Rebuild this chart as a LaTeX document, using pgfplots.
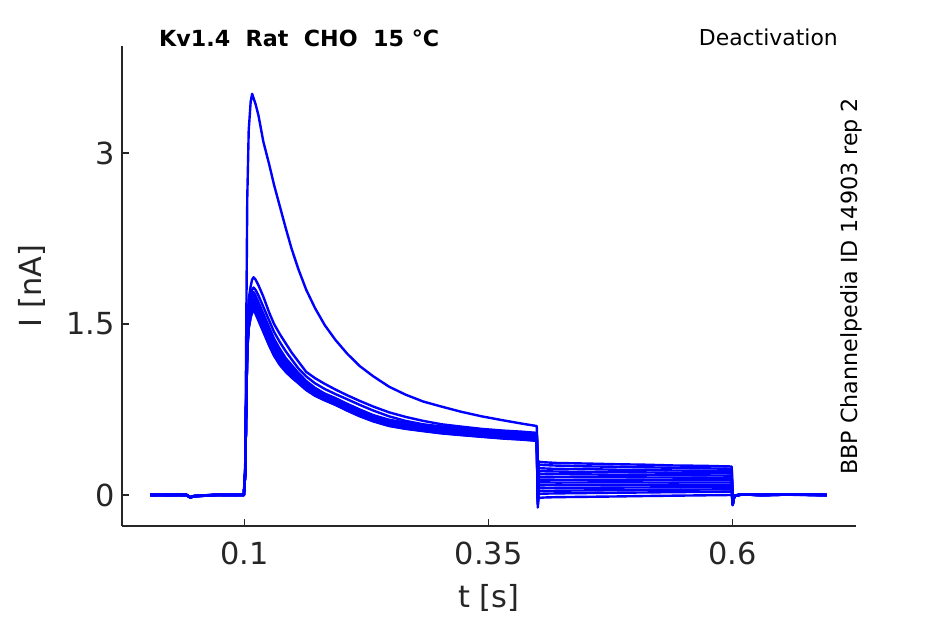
\documentclass[border=0pt]{standalone}
\usepackage{pgfplots}
\pgfplotsset{compat=1.18}
\usepackage{pgfplotstable}
\usepackage{fontspec}
\setmainfont{DejaVu Sans}
\definecolor{axgray}{HTML}{262626}
\definecolor{trace}{HTML}{0000FF}

\pgfplotstableread{
t T1 T2 T3 T4 T5 T6 T7 T8 T9 T10 T11 T12 T13
0.003 0.000 0.005 0.000 -0.005 0.000 0.005 0.000 0.000 -0.005 0.000 0.005 0.000 0.000
0.020 0.003 0.000 -0.004 0.002 0.000 -0.003 0.004 0.000 0.002 -0.002 0.000 0.003 -0.003
0.040 0.000 -0.003 0.002 0.000 0.004 0.000 -0.002 0.003 0.000 0.002 -0.004 0.000 0.002
0.044 -0.020 -0.022 -0.018 -0.020 -0.024 -0.019 -0.021 -0.020 -0.017 -0.023 -0.020 -0.022 -0.019
0.048 -0.010 -0.012 -0.008 -0.011 -0.009 -0.010 -0.013 -0.010 -0.008 -0.011 -0.012 -0.009 -0.010
0.070 0.000 0.003 -0.002 0.000 0.002 -0.003 0.000 0.004 0.000 -0.002 0.000 0.003 0.000
0.099 0.000 0.000 0.002 -0.002 0.000 0.003 0.000 -0.003 0.002 0.000 -0.002 0.000 0.003
0.1005 0.30 0.23 0.22 0.21 0.21 0.21 0.20 0.20 0.20 0.20 0.20 0.20 0.19
0.1015 1.50 0.95 0.91 0.89 0.88 0.86 0.85 0.84 0.83 0.83 0.82 0.81 0.81
0.1025 2.60 1.49 1.42 1.39 1.37 1.34 1.33 1.31 1.30 1.29 1.28 1.27 1.26
0.104 3.20 1.72 1.64 1.60 1.58 1.55 1.53 1.52 1.50 1.49 1.48 1.47 1.46
0.106 3.45 1.83 1.75 1.71 1.69 1.66 1.63 1.62 1.60 1.59 1.57 1.56 1.56
0.1075 3.52 1.89 1.80 1.76 1.74 1.71 1.68 1.67 1.65 1.64 1.62 1.61 1.60
0.109 3.48 1.91 1.82 1.78 1.756 1.724 1.70 1.684 1.668 1.652 1.639 1.628 1.62
0.111 3.43 1.89 1.80 1.75 1.726 1.694 1.67 1.654 1.638 1.622 1.609 1.598 1.59
0.114 3.33 1.84 1.75 1.69 1.666 1.634 1.61 1.594 1.578 1.562 1.549 1.538 1.53
0.119 3.10 1.74 1.65 1.59 1.566 1.534 1.51 1.494 1.478 1.462 1.449 1.438 1.43
0.125 2.90 1.60 1.53 1.47 1.446 1.414 1.39 1.374 1.358 1.342 1.329 1.318 1.31
0.130 2.72 1.50 1.43 1.37 1.348 1.318 1.295 1.28 1.265 1.25 1.238 1.228 1.22
0.136 2.53 1.41 1.34 1.28 1.259 1.231 1.21 1.196 1.182 1.168 1.157 1.147 1.14
0.142 2.34 1.33 1.26 1.20 1.182 1.158 1.14 1.128 1.116 1.104 1.094 1.086 1.08
0.148 2.16 1.25 1.19 1.14 1.124 1.102 1.085 1.074 1.063 1.052 1.043 1.036 1.03
0.155 1.98 1.17 1.11 1.07 1.057 1.039 1.025 1.016 1.007 0.998 0.991 0.985 0.98
0.163 1.80 1.08 1.04 1.00 0.988 0.972 0.96 0.952 0.944 0.936 0.93 0.924 0.92
0.172 1.64 1.025 0.98 0.94 0.93 0.916 0.905 0.898 0.891 0.884 0.878 0.874 0.87
0.182 1.49 0.975 0.93 0.89 0.881 0.869 0.86 0.854 0.848 0.842 0.837 0.833 0.83
0.193 1.36 0.925 0.885 0.85 0.841 0.829 0.82 0.814 0.808 0.802 0.797 0.793 0.79
0.205 1.24 0.875 0.84 0.80 0.791 0.779 0.77 0.764 0.758 0.752 0.747 0.743 0.74
0.218 1.13 0.825 0.79 0.75 0.741 0.729 0.72 0.714 0.708 0.702 0.697 0.693 0.69
0.232 1.04 0.775 0.74 0.70 0.692 0.681 0.673 0.667 0.662 0.656 0.652 0.648 0.645
0.248 0.95 0.725 0.69 0.66 0.652 0.641 0.633 0.627 0.622 0.616 0.612 0.608 0.605
0.265 0.88 0.685 0.65 0.635 0.627 0.616 0.608 0.602 0.597 0.591 0.587 0.583 0.58
0.283 0.82 0.65 0.62 0.615 0.607 0.596 0.588 0.582 0.577 0.571 0.567 0.563 0.56
0.302 0.775 0.62 0.60 0.60 0.591 0.579 0.57 0.564 0.558 0.552 0.547 0.543 0.54
0.322 0.73 0.60 0.58 0.585 0.576 0.564 0.555 0.549 0.543 0.537 0.532 0.528 0.525
0.343 0.69 0.58 0.565 0.57 0.561 0.549 0.54 0.534 0.528 0.522 0.517 0.513 0.51
0.365 0.655 0.565 0.55 0.56 0.55 0.537 0.528 0.521 0.515 0.508 0.503 0.498 0.495
0.385 0.625 0.555 0.54 0.55 0.54 0.527 0.518 0.511 0.505 0.498 0.493 0.488 0.485
0.3995 0.605 0.545 0.53 0.54 0.53 0.517 0.508 0.501 0.495 0.488 0.483 0.478 0.475
0.4005 0.200 0.175 0.145 0.120 0.095 0.070 0.045 0.020 -0.005 -0.030 -0.055 -0.080 -0.110
0.4015 0.295 0.270 0.240 0.215 0.190 0.165 0.140 0.115 0.090 0.065 0.040 0.015 -0.020
0.403 0.290 0.265 0.235 0.210 0.185 0.160 0.135 0.110 0.085 0.060 0.035 0.010 -0.025
0.407 0.287 0.262 0.233 0.208 0.184 0.159 0.135 0.111 0.085 0.061 0.036 0.012 -0.022
0.420 0.281 0.258 0.229 0.206 0.182 0.158 0.134 0.109 0.086 0.062 0.038 0.014 -0.019
0.450 0.276 0.251 0.227 0.202 0.181 0.157 0.133 0.110 0.087 0.063 0.040 0.017 -0.016
0.480 0.270 0.248 0.222 0.200 0.177 0.156 0.134 0.111 0.087 0.065 0.042 0.020 -0.013
0.510 0.266 0.243 0.220 0.198 0.176 0.154 0.132 0.110 0.088 0.066 0.044 0.022 -0.009
0.540 0.259 0.239 0.215 0.195 0.174 0.153 0.131 0.109 0.089 0.067 0.046 0.025 -0.006
0.570 0.256 0.234 0.213 0.192 0.172 0.152 0.131 0.110 0.089 0.069 0.048 0.027 -0.003
0.5995 0.250 0.230 0.210 0.190 0.170 0.150 0.130 0.110 0.090 0.070 0.050 0.030 0.000
0.6005 -0.080 -0.075 -0.085 -0.080 -0.090 -0.078 -0.082 -0.080 -0.075 -0.085 -0.080 -0.088 -0.080
0.6015 -0.030 -0.028 -0.032 -0.030 -0.035 -0.030 -0.027 -0.030 -0.033 -0.030 -0.028 -0.030 -0.031
0.603 -0.005 -0.004 -0.006 -0.005 -0.007 -0.005 -0.004 -0.005 -0.006 -0.005 -0.004 -0.005 -0.006
0.610 0.005 0.004 0.006 0.005 0.003 0.005 0.006 0.004 0.005 0.005 0.006 0.004 0.005
0.630 0.000 0.002 -0.002 0.000 0.003 0.000 -0.002 0.000 0.002 0.000 -0.003 0.000 0.002
0.660 0.005 0.003 0.004 0.006 0.002 0.005 0.004 0.003 0.005 0.006 0.004 0.003 0.005
0.697 0.000 -0.002 0.002 0.000 -0.003 0.000 0.002 0.000 -0.002 0.000 0.003 0.000 -0.002
}\datatable

\begin{document}
\begin{tikzpicture}
\path[use as bounding box] (0,0) rectangle (945bp,624bp);
\begin{axis}[
  at={(122bp,98bp)}, anchor=south west,
  scale only axis, width=734bp, height=480bp,
  xmin=-0.026, xmax=0.727, ymin=-0.272, ymax=3.939,
  axis x line*=bottom, axis y line*=left,
  axis line style={-, color=axgray, line width=1.2bp},
  tick align=inside, major tick length=7bp,
  tick style={color=axgray, line width=1.2bp},
  xtick={0.1,0.35,0.6}, xticklabels={0.1,0.35,0.6},
  ytick={0,1.5,3}, yticklabels={0,1.5,3},
  ticklabel style={font=\fontsize{30.5}{36}\selectfont, text=axgray},
  xticklabel shift=12bp, yticklabel shift=4bp,
  xlabel={t [s]}, ylabel={I [nA]},
  label style={font=\fontsize{30.5}{36}\selectfont, text=axgray},
  xlabel style={at={(axis description cs:0.5,-0.1708)}, anchor=base},
  ylabel style={at={(axis description cs:-0.109,0.5)}, anchor=base},
  clip=false,
]
\pgfplotsinvokeforeach{1,...,13}{
  \addplot[color=trace, line width=2.4bp, line join=round] table[x=t, y=T#1]{\datatable};
}
\end{axis}
\node[anchor=base west, inner sep=0pt, font=\fontsize{22.3}{26}\selectfont\bfseries] at (159bp,577bp) {Kv1.4\ \ Rat\ \ CHO\ \ 15 °C};
\node[anchor=base east, inner sep=0pt, font=\fontsize{22}{26}\selectfont] at (838bp,578bp) {Deactivation};
\node[anchor=base west, inner sep=0pt, rotate=90, font=\fontsize{22.3}{26}\selectfont] at (857bp,149bp) {BBP Channelpedia ID 14903 rep 2};
\end{tikzpicture}
\end{document}
